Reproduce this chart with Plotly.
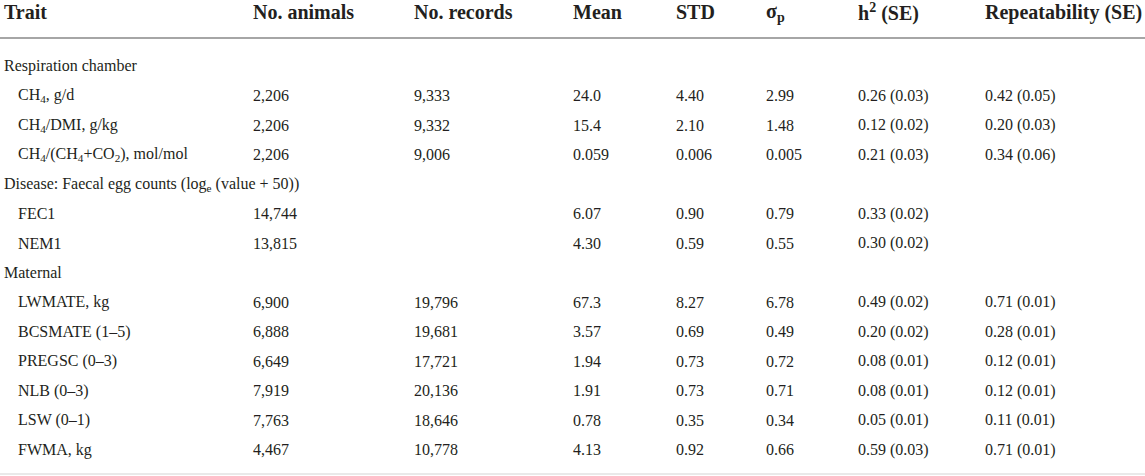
import plotly.graph_objects as go

# table content
columns = ["Trait", "No. animals", "No. records", "Mean", "STD", "σ<sub>p</sub>",
           "h<sup>2</sup> (SE)", "Repeatability (SE)"]
groups = ["Respiration chamber",
          "Disease: Faecal egg counts (log<sub>e</sub> (value + 50))",
          "Maternal"]
traits = ["CH<sub>4</sub>, g/d", "CH<sub>4</sub>/DMI, g/kg",
          "CH<sub>4</sub>/(CH<sub>4</sub>+CO<sub>2</sub>), mol/mol",
          "FEC1", "NEM1",
          "LWMATE, kg", "BCSMATE (1–5)", "PREGSC (0–3)", "NLB (0–3)",
          "LSW (0–1)", "FWMA, kg"]
trait_group = [0, 0, 0, 1, 1, 2, 2, 2, 2, 2, 2]
n_animals = [2206, 2206, 2206, 14744, 13815, 6900, 6888, 6649, 7919, 7763, 4467]
n_records = [9333, 9332, 9006, None, None, 19796, 19681, 17721, 20136, 18646, 10778]
means = ["24.0", "15.4", "0.059", "6.07", "4.30", "67.3", "3.57", "1.94", "1.91", "0.78", "4.13"]
stds = ["4.40", "2.10", "0.006", "0.90", "0.59", "8.27", "0.69", "0.73", "0.73", "0.35", "0.92"]
sigma_p = ["2.99", "1.48", "0.005", "0.79", "0.55", "6.78", "0.49", "0.72", "0.71", "0.34", "0.66"]
h2 = [0.26, 0.12, 0.21, 0.33, 0.30, 0.49, 0.20, 0.08, 0.08, 0.05, 0.59]
h2_se = [0.03, 0.02, 0.03, 0.02, 0.02, 0.02, 0.02, 0.01, 0.01, 0.01, 0.03]
rep = [0.42, 0.20, 0.34, None, None, 0.71, 0.28, 0.12, 0.12, 0.11, 0.71]
rep_se = [0.05, 0.03, 0.06, None, None, 0.01, 0.01, 0.01, 0.01, 0.01, 0.01]

W, H = 1145, 476
col_x = [2, 251, 412, 571, 674, 764, 856, 983]
indent_x = 16
header_y = 12
first_row_y = 66
row_h = 29.5
txt_color = "#231f20"
font_name = "Liberation Serif"

fig = go.Figure()
ann = []


def cell(x, y, text, size=16, bold=False):
    ann.append(dict(x=x, y=y, xref="x", yref="y", text=f"<b>{text}</b>" if bold else text,
                    showarrow=False, xanchor="left", yanchor="middle",
                    font=dict(family=font_name, size=size, color=txt_color)))


for x, name in zip(col_x, columns):
    cell(x, header_y, name, size=20, bold=True)

# build rows: group heading then its traits
row = 0
last_group = -1
for i, t in enumerate(traits):
    if trait_group[i] != last_group:
        last_group = trait_group[i]
        cell(col_x[0], first_row_y + row * row_h, groups[last_group])
        row += 1
    y = first_row_y + row * row_h
    vals = [f"{n_animals[i]:,}",
            f"{n_records[i]:,}" if n_records[i] is not None else "",
            means[i], stds[i], sigma_p[i],
            f"{h2[i]:.2f} ({h2_se[i]:.2f})",
            f"{rep[i]:.2f} ({rep_se[i]:.2f})" if rep[i] is not None else ""]
    cell(indent_x, y, t)
    for x, v in zip(col_x[1:], vals):
        if v:
            cell(x, y, v)
    row += 1

fig.update_layout(
    annotations=ann,
    shapes=[
        dict(type="line", xref="x", yref="y", x0=0, x1=W, y0=38, y1=38,
             line=dict(color="#a6a6a6", width=2)),
        dict(type="line", xref="x", yref="y", x0=0, x1=W, y0=474, y1=474,
             line=dict(color="#e2e2e2", width=1.5)),
    ],
    width=W, height=H,
    margin=dict(l=0, r=0, t=0, b=0),
    paper_bgcolor="white", plot_bgcolor="white",
    xaxis=dict(range=[0, W], visible=False, fixedrange=True),
    yaxis=dict(range=[H, 0], visible=False, fixedrange=True),
    showlegend=False,
)

# drop the default page margin so the figure sits at the window's top-left
fig.write_html("out.html", config={"displayModeBar": False},
               post_script="document.body.style.margin='0';")
